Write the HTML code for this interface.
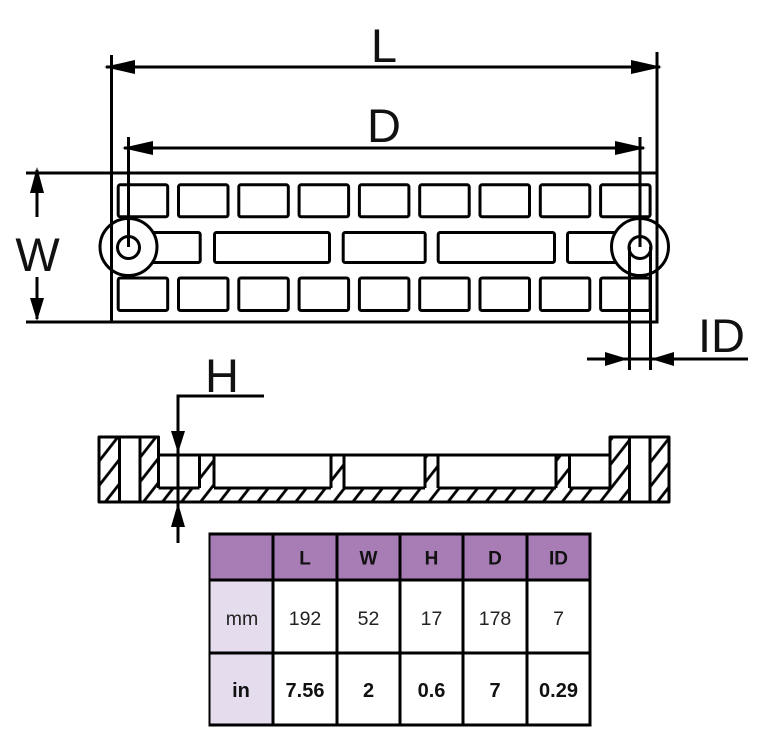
<!DOCTYPE html>
<html>
<head>
<meta charset="utf-8">
<style>
  html,body{margin:0;padding:0;background:#fff;}
  svg{display:block;}
  text{font-family:"Liberation Sans", Arial, sans-serif;}
</style>
</head>
<body>
<svg width="773" height="752" viewBox="0 0 773 752" xmlns="http://www.w3.org/2000/svg">
  <defs>
    <pattern id="h" patternUnits="userSpaceOnUse" width="15" height="15" patternTransform="rotate(38)">
      <line x1="2" y1="-2" x2="2" y2="17" stroke="#000" stroke-width="2.8"/>
    </pattern>
  </defs>

  <!-- ===== TOP VIEW ===== -->
  <g fill="none" stroke="#000" stroke-width="3" stroke-linejoin="round">
    <rect x="118.2" y="184.8" width="49.5" height="32" rx="2"/>
    <rect x="178.5" y="184.8" width="49.5" height="32" rx="2"/>
    <rect x="238.8" y="184.8" width="49.5" height="32" rx="2"/>
    <rect x="299.1" y="184.8" width="49.5" height="32" rx="2"/>
    <rect x="359.4" y="184.8" width="49.5" height="32" rx="2"/>
    <rect x="419.7" y="184.8" width="49.5" height="32" rx="2"/>
    <rect x="480.0" y="184.8" width="49.5" height="32" rx="2"/>
    <rect x="540.3" y="184.8" width="49.5" height="32" rx="2"/>
    <rect x="600.6" y="184.8" width="49.5" height="32" rx="2"/>
    <rect x="118.2" y="232.5" width="82" height="30" rx="2"/>
    <rect x="214.5" y="232.5" width="115" height="30" rx="2"/>
    <rect x="343.2" y="232.5" width="82" height="30" rx="2"/>
    <rect x="438.2" y="232.5" width="116.3" height="30" rx="2"/>
    <rect x="567.5" y="232.5" width="82.5" height="30" rx="2"/>
    <rect x="118.2" y="278" width="49.5" height="32.5" rx="2"/>
    <rect x="178.5" y="278" width="49.5" height="32.5" rx="2"/>
    <rect x="238.8" y="278" width="49.5" height="32.5" rx="2"/>
    <rect x="299.1" y="278" width="49.5" height="32.5" rx="2"/>
    <rect x="359.4" y="278" width="49.5" height="32.5" rx="2"/>
    <rect x="419.7" y="278" width="49.5" height="32.5" rx="2"/>
    <rect x="480.0" y="278" width="49.5" height="32.5" rx="2"/>
    <rect x="540.3" y="278" width="49.5" height="32.5" rx="2"/>
    <rect x="600.6" y="278" width="49.5" height="32.5" rx="2"/>
  </g>

  <g stroke="#000" stroke-width="3" fill="#fff">
    <circle cx="128.5" cy="247" r="28.5"/>
    <circle cx="128.5" cy="247.5" r="11"/>
    <circle cx="640" cy="247" r="28.5"/>
    <circle cx="640" cy="247.5" r="11"/>
  </g>

  <g stroke="#000" stroke-width="3" fill="none">
    <line x1="26" y1="173" x2="658.5" y2="173"/>
    <line x1="26" y1="322" x2="658.5" y2="322"/>
    <line x1="111.5" y1="55" x2="111.5" y2="322"/>
    <line x1="657" y1="52" x2="657" y2="322"/>
    <line x1="106" y1="67" x2="660" y2="67"/>
    <line x1="124" y1="148" x2="644" y2="148"/>
    <line x1="128.5" y1="137" x2="128.5" y2="247"/>
    <line x1="640" y1="137" x2="640" y2="247"/>
    <line x1="37" y1="170" x2="37" y2="217"/>
    <line x1="37" y1="277" x2="37" y2="319"/>
    <line x1="629.5" y1="247" x2="629.5" y2="370"/>
    <line x1="650.5" y1="247" x2="650.5" y2="370"/>
    <line x1="587" y1="359" x2="748" y2="359"/>
    <line x1="178" y1="396" x2="178" y2="543"/>
    <line x1="176.5" y1="396" x2="264" y2="396"/>
  </g>

  <g fill="#000" stroke="none">
    <polygon points="104,67 135,60 135,74"/>
    <polygon points="662,67 631,60 631,74"/>
    <polygon points="122,148 153,141 153,155"/>
    <polygon points="646,148 615,141 615,155"/>
    <polygon points="37,167 30,193 44,193"/>
    <polygon points="37,321 30,298 44,298"/>
    <polygon points="628,359 605,352 605,366"/>
    <polygon points="651,359 674,352 674,366"/>
  </g>

  <g fill="#111" font-size="47">
    <text x="384" y="62" text-anchor="middle">L</text>
    <text x="384" y="142" text-anchor="middle">D</text>
    <text x="37.5" y="271" text-anchor="middle">W</text>
    <text x="721.5" y="352" text-anchor="middle">ID</text>
    <text x="222" y="392" text-anchor="middle">H</text>
  </g>

  <!-- ===== SECTION VIEW ===== -->
  <g fill="url(#h)" stroke="none">
    <rect x="99" y="437" width="20.5" height="65"/>
    <rect x="140" y="437" width="18.5" height="65"/>
    <rect x="158" y="488" width="452" height="14"/>
    <rect x="199.5" y="455" width="14.5" height="33"/>
    <rect x="331" y="455" width="13" height="33"/>
    <rect x="425" y="455" width="13" height="33"/>
    <rect x="556" y="455" width="13.5" height="33"/>
    <rect x="610" y="437" width="19.5" height="65"/>
    <rect x="650" y="437" width="19" height="65"/>
  </g>
  <g stroke="#000" stroke-width="3" fill="none" stroke-linejoin="round">
    <polygon points="99,437 158.5,437 158.5,455 610,455 610,437 669,437 669,502 99,502"/>
    <line x1="119.5" y1="437" x2="119.5" y2="502"/>
    <line x1="140" y1="437" x2="140" y2="502"/>
    <line x1="629.5" y1="437" x2="629.5" y2="502"/>
    <line x1="650" y1="437" x2="650" y2="502"/>
    <line x1="158.5" y1="455" x2="158.5" y2="488"/>
    <line x1="610" y1="455" x2="610" y2="488"/>
    <line x1="158.5" y1="488" x2="199.5" y2="488"/>
    <line x1="214" y1="488" x2="331" y2="488"/>
    <line x1="344" y1="488" x2="425" y2="488"/>
    <line x1="438" y1="488" x2="556" y2="488"/>
    <line x1="569.5" y1="488" x2="610" y2="488"/>
    <line x1="199.5" y1="455" x2="199.5" y2="488"/>
    <line x1="214" y1="455" x2="214" y2="488"/>
    <line x1="331" y1="455" x2="331" y2="488"/>
    <line x1="344" y1="455" x2="344" y2="488"/>
    <line x1="425" y1="455" x2="425" y2="488"/>
    <line x1="438" y1="455" x2="438" y2="488"/>
    <line x1="556" y1="455" x2="556" y2="488"/>
    <line x1="569.5" y1="455" x2="569.5" y2="488"/>
    <line x1="178" y1="440" x2="178" y2="510"/>
  </g>
  <g fill="#000">
    <polygon points="178,453 171,431 185,431"/>
    <polygon points="178,503 171,527 185,527"/>
  </g>

  <!-- ===== TABLE ===== -->
  <rect x="209" y="534" width="381" height="46" fill="#a87db6"/>
  <rect x="209" y="580" width="64" height="145" fill="#e5ddee"/>
  <g stroke="#000" stroke-width="3">
    <line x1="209" y1="534" x2="590" y2="534"/>
    <line x1="209" y1="580" x2="590" y2="580"/>
    <line x1="209" y1="653" x2="590" y2="653"/>
    <line x1="209" y1="725" x2="590" y2="725"/>
    <line x1="209.5" y1="532.5" x2="209.5" y2="726.5" stroke-width="2"/>
    <line x1="273" y1="532.5" x2="273" y2="726.5"/>
    <line x1="337" y1="532.5" x2="337" y2="726.5"/>
    <line x1="400" y1="532.5" x2="400" y2="726.5"/>
    <line x1="463" y1="532.5" x2="463" y2="726.5"/>
    <line x1="527" y1="532.5" x2="527" y2="726.5"/>
    <line x1="590" y1="532.5" x2="590" y2="726.5"/>
  </g>
  <g fill="#111" font-size="19" font-weight="bold" text-anchor="middle">
    <text x="305" y="564.5">L</text>
    <text x="368.5" y="564.5">W</text>
    <text x="431.5" y="564.5">H</text>
    <text x="495" y="564.5">D</text>
    <text x="558.5" y="564.5">ID</text>
  </g>
  <g fill="#222" font-size="19.5" text-anchor="middle">
    <text x="242" y="625">mm</text>
    <text x="305" y="625">192</text>
    <text x="368.5" y="625">52</text>
    <text x="431.5" y="625">17</text>
    <text x="495" y="625">178</text>
    <text x="558.5" y="625">7</text>
  </g>
  <g fill="#111" font-size="20" font-weight="bold" text-anchor="middle">
    <text x="241" y="697">in</text>
    <text x="305" y="697">7.56</text>
    <text x="368.5" y="697">2</text>
    <text x="431.5" y="697">0.6</text>
    <text x="495" y="697">7</text>
    <text x="558.5" y="697">0.29</text>
  </g>
</svg>
</body>
</html>
